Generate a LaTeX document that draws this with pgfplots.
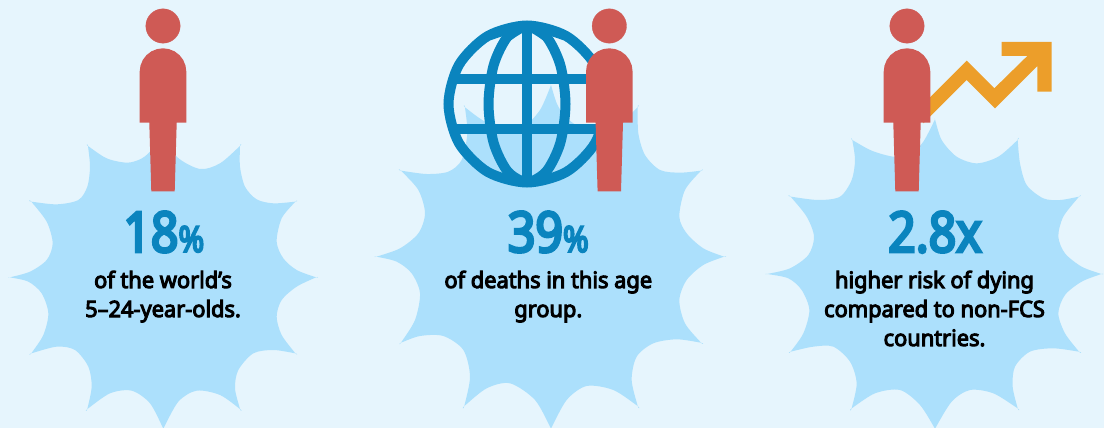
\documentclass[border=0pt]{standalone}
\usepackage{fontspec}
\usepackage{pgfplots}
\usepackage{pgfplotstable}
\pgfplotsset{compat=1.18}
\setmainfont{Noto Sans}
\newfontfamily\heavy{Noto Sans}[FakeBold=4.5, FakeStretch=0.97]
\newfontfamily\heavynum{Noto Sans}[FakeBold=5, FakeStretch=0.86]

\definecolor{bgblue}{HTML}{E6F5FD}
\definecolor{burst}{HTML}{ACE0FC}
\definecolor{person}{HTML}{CF5A55}
\definecolor{globe}{HTML}{0A84BE}
\definecolor{arrow}{HTML}{EC9E2A}

\tikzset{capline/.style={anchor=base, text=black, font=\heavy\fontsize{22.5}{23}\selectfont, inner sep=0pt}}
\tikzset{bignum/.style={anchor=base, text=globe, font=\heavynum\fontsize{56}{56}\selectfont, inner sep=0pt}}

% burst outlines, read at 3x; a tip is listed twice to stay sharp
\pgfplotstableread{
x y
490 400
490 400
530 470
600 507
660 490
720 438
720 438
720 500
735 560
770 598
820 610
886 605
886 605
845 655
830 725
850 775
890 810
948 832
948 832
890 860
845 900
830 950
845 1005
886 1060
886 1060
820 1050
760 1060
715 1110
705 1165
720 1227
720 1227
660 1185
590 1172
535 1205
490 1286
490 1286
450 1210
395 1172
330 1180
262 1227
262 1227
275 1160
265 1100
225 1050
170 1040
94 1060
94 1060
130 1005
145 940
125 880
85 845
30 832
30 832
90 815
140 780
158 730
140 665
94 605
94 605
170 613
235 600
262 560
270 500
264 438
264 438
320 475
380 488
420 478
450 455
490 400
}\burstA

\pgfplotstableread{
x y
543 255
543 255
565 320
610 370
680 395
750 370
803 322
803 322
805 400
825 465
870 510
930 518
993 512
993 512
945 570
928 650
950 700
1000 745
1062 770
1062 770
1000 795
950 840
928 900
945 970
993 1028
993 1028
920 1018
850 1030
800 1070
785 1140
803 1218
803 1218
730 1170
650 1158
590 1200
543 1286
543 1286
495 1200
420 1150
350 1165
283 1218
283 1218
300 1130
280 1050
220 1008
150 1008
93 1028
93 1028
135 960
150 880
125 820
80 785
20 770
20 770
90 745
145 700
165 640
145 570
93 512
93 512
170 522
235 515
275 480
292 400
285 322
285 322
340 362
400 385
460 380
510 330
543 255
}\burstB

\pgfplotstableread{
x y
525 358
525 358
545 420
590 470
650 490
715 470
773 420
773 420
780 490
800 555
850 595
900 600
957 590
957 590
910 650
895 710
915 760
965 800
1024 822
1024 822
965 845
915 885
895 940
915 1000
957 1055
957 1055
880 1045
810 1055
765 1100
758 1160
773 1225
773 1225
700 1180
630 1170
575 1205
525 1286
525 1286
480 1215
420 1170
345 1180
275 1225
275 1225
290 1150
270 1085
220 1040
160 1040
92 1055
92 1055
130 1000
148 930
125 870
85 835
22 822
22 822
90 805
145 765
162 710
140 650
92 590
92 590
175 600
240 590
275 540
285 480
277 420
277 420
335 452
400 470
450 465
490 425
525 358
}\burstC

% person outline, x relative to the body's centre
\pgfplotstableread{
x y
-23.3 122.7
-23.3 71.6
-22.5 65.6
-20.2 60
-16.5 55.1
-11.65 51.4
-6 49.1
0 48.3
6 49.1
11.65 51.4
16.5 55.1
20.2 60
22.5 65.6
23.3 71.6
23.3 122.7
13.7 122.7
11.7 191.3
-11.7 191.3
-13.7 122.7
}\personshape

\begin{document}
\begin{tikzpicture}
\begin{axis}[
  width=1104pt, height=428pt,
  scale only axis,
  xmin=0, xmax=1104,
  ymin=0, ymax=428,
  y dir=reverse,
  axis lines=none,
  ticks=none,
  enlargelimits=false,
  no markers
]

\addplot[draw=none, fill=bgblue] coordinates {(0,0) (1104,0) (1104,428) (0,428)};

% bursts
\addplot[draw=none, fill=burst, smooth] table[x expr=\thisrow{x}/3, y expr=\thisrow{y}/3] {\burstA};
\addplot[draw=none, fill=burst, smooth] table[x expr=\thisrow{x}/3+370, y expr=\thisrow{y}/3] {\burstB};
\addplot[draw=none, fill=burst, smooth] table[x expr=\thisrow{x}/3+760, y expr=\thisrow{y}/3] {\burstC};

% globe
\addplot[globe, line width=10pt, smooth] coordinates {
  (487.8,36) (527,25.5) (566.2,36) (595,64.8) (605.5,104) (595,143.2) (566.2,172) (527,182.5)
  (487.8,172) (459,143.2) (448.5,104) (459,64.8) (487.8,36) (527,25.5) (566.2,36)};
\addplot[globe, line width=10pt] coordinates {(452.7,79.5) (601.3,79.5)};
\addplot[globe, line width=10pt] coordinates {(452.7,128.5) (601.3,128.5)};
\addplot[globe, line width=10pt] coordinates {(527,26) (527,182)};
\addplot[globe, line width=10pt, smooth] coordinates {
  (507.75,36.5) (527,26) (546.25,36.5) (560.3,65) (565.5,104) (560.3,143) (546.25,171.5) (527,182)
  (507.75,171.5) (493.7,143) (488.5,104) (493.7,65) (507.75,36.5) (527,26) (546.25,36.5)};

% rising arrow
\addplot[draw=none, fill=arrow] coordinates {
  (923.3,104) (966.7,60.7) (994.3,88.3) (1027.3,56) (1001.7,56) (1001.7,42) (1051.7,42)
  (1051.7,91.7) (1037.3,91.7) (1037.3,66) (995,108.3) (966.7,80) (923.3,123.3)};

% people
\addplot[draw=none, fill=person] table[x expr=\thisrow{x}+163, y=y] {\personshape};
\addplot[draw=none, fill=person] table[x expr=\thisrow{x}+609.3, y=y] {\personshape};
\addplot[draw=none, fill=person] table[x expr=\thisrow{x}+907, y=y] {\personshape};
\addplot[only marks, mark=*, mark size=17.2, mark options={draw=person, fill=person, line width=0.3pt}] coordinates {(163,26) (609.3,26) (907,26)};

% big numbers
\node[bignum] at (axis cs:163.8,252) {18{\fontsize{36}{36}\selectfont\%}};
\node[bignum] at (axis cs:548.3,252) {39{\fontsize{36}{36}\selectfont\%}};
\node[bignum] at (axis cs:935,252) {2.8x};

% captions
\node[capline] at (axis cs:163,288) {of the world’s};
\node[capline] at (axis cs:163,317) {5–24-year-olds.};
\node[capline] at (axis cs:548.3,288) {of deaths in this age};
\node[capline] at (axis cs:548.3,317) {group.};
\node[capline] at (axis cs:934.5,288) {higher risk of dying};
\node[capline] at (axis cs:934.5,317) {compared to non-FCS};
\node[capline] at (axis cs:934.5,346) {countries.};

\end{axis}
\end{tikzpicture}
\end{document}
